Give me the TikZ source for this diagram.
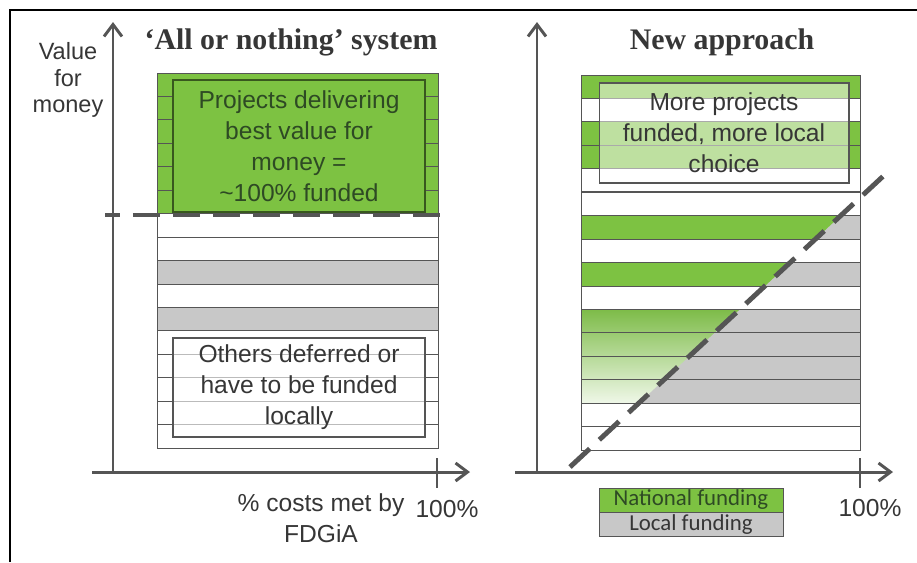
\documentclass[tikz,border=0pt]{standalone}
\usepackage{fontspec}
\setmainfont{Liberation Sans}
\newfontfamily\headfont{Liberation Serif}
\newfontfamily\keyfont{Carlito}
\usetikzlibrary{arrows.meta,positioning}

\definecolor{projgreen}{HTML}{7DC242}
\definecolor{rowgray}{HTML}{C8C8C8}
\definecolor{axisgray}{HTML}{555555}
\definecolor{textgray}{HTML}{363636}
\definecolor{darkgreen}{HTML}{2E4A24}

\begin{document}
\begin{tikzpicture}[x=0.02cm, y=-0.02cm,
    axisline/.style = {draw=axisgray, line width=1.7pt, -{Straight Barb[length=2.4mm,width=3.6mm]}},
    tickline/.style = {draw=axisgray, line width=1.7pt},
    rowline/.style = {draw=axisgray, line width=0.5pt},
    cutline/.style = {draw=axisgray, line width=2.8pt, dash pattern=on 0.54cm off 0.26cm},
    inbox/.style = {draw=axisgray, line width=0.6pt, align=center, inner sep=0pt, font=\fontsize{14}{17.6}\selectfont},
    heading/.style = {font=\headfont\bfseries\fontsize{17}{20}\selectfont, text=textgray},
    plain/.style = {align=center, text=textgray, font=\fontsize{14}{17.6}\selectfont},
    legendbox/.style = {draw=axisgray, line width=0.5pt, minimum width=3.68cm, minimum height=0.48cm, inner sep=0pt, font=\keyfont\fontsize{13}{15}\selectfont}]
    \useasboundingbox (0,0) rectangle (917,562);
    \draw[line width=1.1pt] (10,562) -- (10,10) -- (917,10);

    \fill[projgreen] (157,73) rectangle (438,213.6);
    \foreach \i in {8,10} \fill[rowgray] (157,73+\i*23.44) rectangle +(281,23.44);
    \foreach \i in {0,...,15} \draw[rowline] (157,73+\i*23.44) rectangle +(281,23.44);

    \foreach \i in {0,2,3} \fill[projgreen] (581,75+\i*23.44) rectangle +(279,23.44);
    \foreach \i in {6,8,10,11,12,13} \fill[rowgray] (581,75+\i*23.44) rectangle +(279,23.44);
    \begin{scope}
        \clip (570,467) -- (892,168) -- (560,168) -- (560,467) -- cycle;
        \foreach \i in {6,8} \fill[projgreen] (581,75+\i*23.44) rectangle +(279,23.44);
        \shade[top color=projgreen!90!gray, bottom color=projgreen!12] (581,309.4) rectangle (860,403.2);
    \end{scope}
    \foreach \i in {0,...,15} \draw[rowline] (581,75+\i*23.44) rectangle +(279,23.44);
    \draw[rowline, line width=1pt] (581,192.2) -- (860,192.2);

    \node[inbox, draw=projgreen!45!black, fill=projgreen, text=darkgreen, minimum width=5.04cm, minimum height=2.64cm] (best) at (299,146) {Projects delivering\\best value for\\money =\\\textasciitilde100\% funded};
    \node[inbox, fill=white, fill opacity=0.6, text opacity=1, text=textgray, minimum width=5.04cm, minimum height=1.98cm] (rest) at (299,387.5) {Others deferred or\\have to be funded\\locally};
    \node[inbox, fill=white, fill opacity=0.5, text opacity=1, text=textgray, minimum width=5cm, minimum height=2cm] (more) at (724,133) {More projects\\funded, more local\\choice};

    \coordinate (lc1) at (105,215);
    \coordinate (lc2) at (447,215);
    \coordinate (rc1) at (570,467);
    \coordinate (rc2) at (892,168);
    \draw[cutline, dash phase=0.24cm] (lc1) -- (lc2);
    \draw[cutline] (rc1) -- (rc2);

    \coordinate (lo) at (113,472);
    \coordinate (ltop) at (113,22);
    \coordinate (lstart) at (92,472);
    \coordinate (lend) at (470,472);
    \coordinate (ro) at (537,472);
    \coordinate (rtop) at (537,22);
    \coordinate (rstart) at (515,472);
    \coordinate (rend) at (893,472);
    \draw[axisline] (lo) -- (ltop);
    \draw[axisline] (lstart) -- (lend);
    \draw[axisline] (ro) -- (rtop);
    \draw[axisline] (rstart) -- (rend);
    \draw[tickline] (437,458) -- (437,488);
    \draw[tickline] (860,458) -- (860,488);

    \node[heading] (lefthead) at (291,42) {‘All or nothing’ system};
    \node[heading] (righthead) at (722,42) {New approach};
    \node[plain, font=\fontsize{13.4}{15.3}\selectfont] (vfm) at (68,80) {Value\\for\\money};
    \node[plain] (costs) at (321,518) {\% costs met by\\FDGiA};
    \node[plain] (lmax) at (447,509) {100\%};
    \node[plain] (rmax) at (870,508) {100\%};

    \node[legendbox, fill=projgreen, text=darkgreen] (national) at (691,500) {National funding};
    \node[legendbox, fill=rowgray, text=textgray, below=0pt of national] (local) {Local funding};
\end{tikzpicture}
\end{document}
